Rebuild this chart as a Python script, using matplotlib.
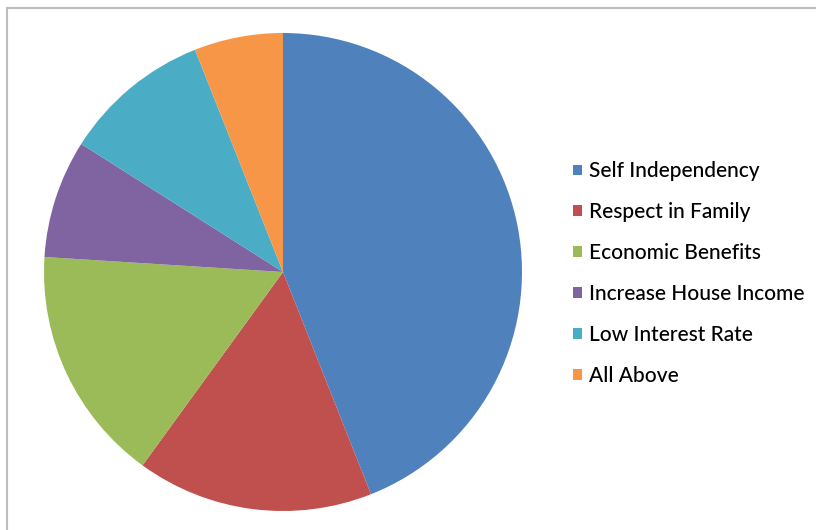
import matplotlib.pyplot as plt
from matplotlib.patches import Rectangle, Patch

labels = ['Self Independency', 'Respect in Family', 'Economic Benefits',
          'Increase House Income', 'Low Interest Rate', 'All Above']
values = [44, 16, 16, 8, 10, 6]
colors = ['#4F81BD', '#C0504D', '#9BBB59', '#8064A2', '#4BACC6', '#F79646']

W, H = 816, 530
fig = plt.figure(figsize=(W / 100, H / 100), dpi=100)

# grey chart border (runs off the right/bottom edge like the screenshot)
fig.patches.append(Rectangle((7 / W, -0.1), 1.2, (H - 8) / H + 0.1,
                             transform=fig.transFigure, fill=False,
                             edgecolor='#BDBDBD', linewidth=1.5))

cx, cy, r = 283, 272, 239
ax = fig.add_axes([(cx - r) / W, (H - cy - r) / H, 2 * r / W, 2 * r / H])
ax.pie(values, colors=colors, startangle=90, counterclock=False,
       wedgeprops=dict(linewidth=0))
ax.set_xlim(-1, 1)
ax.set_ylim(-1, 1)
ax.axis('off')

handles = [Patch(facecolor=c, label=l) for c, l in zip(colors, labels)]
fig.legend(handles=handles, loc='upper left', bbox_to_anchor=(563 / W, 1 - 151 / H),
           frameon=False, prop={'family': 'Lato', 'size': 15, 'weight': 'medium'},
           handlelength=0.43, handleheight=0.43, handletextpad=0.33,
           labelspacing=1.0, borderpad=0)

fig.savefig('out.png', dpi=100)
